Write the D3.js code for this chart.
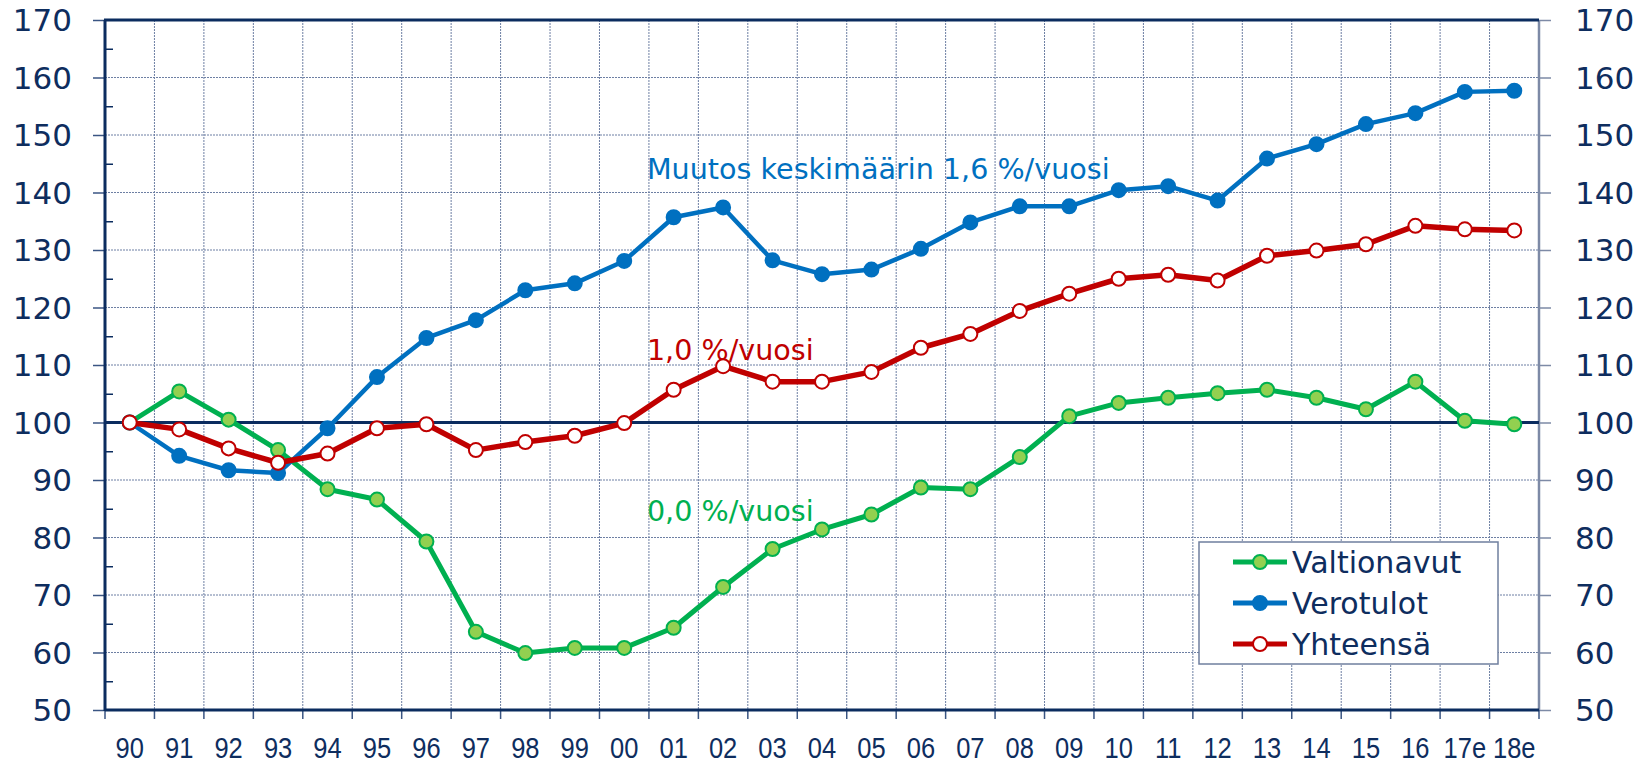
<!DOCTYPE html>
<html lang="fi">
<head>
<meta charset="UTF-8">
<title>Valtionavut, verotulot ja yhteensä</title>
<style>
    body { margin: 0; background: #fff; }
    svg { display: block; }
    .ylab { font-family: "DejaVu Sans", Verdana, sans-serif; font-size: 31px; fill: #0e2d5e; }
    .xlab { font-family: "Liberation Sans", Arial, sans-serif; font-size: 30px; fill: #0e2d5e; }
    .legend text { font-family: "DejaVu Sans", Verdana, sans-serif; font-size: 30px; fill: #0e2d5e; }
    .note { font-family: "DejaVu Sans", Verdana, sans-serif; font-size: 28.6px; }
</style>
</head>
<body>
<div id="chart"></div>
<script src="https://cdnjs.cloudflare.com/ajax/libs/d3/7.8.5/d3.min.js"></script>
<script>
    // years (index 1990 = 100)
    var years = ["90", "91", "92", "93", "94", "95", "96", "97", "98", "99", "00", "01", "02", "03", "04",
                 "05", "06", "07", "08", "09", "10", "11", "12", "13", "14", "15", "16", "17e", "18e"];

    var valtionavut = [100, 105.4, 100.5, 95.2, 88.4, 86.6, 79.3, 63.6, 59.9, 60.8, 60.8, 64.3, 71.4, 78.0, 81.4,
                       84.0, 88.7, 88.4, 94.0, 101.1, 103.4, 104.3, 105.1, 105.7, 104.3, 102.3, 107.1, 100.3, 99.7];
    var verotulot = [100, 94.2, 91.7, 91.2, 99.0, 107.9, 114.7, 117.8, 123.0, 124.2, 128.1, 135.7, 137.4, 128.2, 125.8,
                     126.6, 130.2, 134.8, 137.6, 137.6, 140.4, 141.1, 138.6, 145.9, 148.4, 151.9, 153.8, 157.5, 157.7];
    var yhteensa = [100, 98.8, 95.5, 93.0, 94.6, 99.0, 99.7, 95.2, 96.6, 97.7, 99.9, 105.7, 109.8, 107.1, 107.1,
                    108.8, 113.0, 115.4, 119.4, 122.4, 125.0, 125.7, 124.7, 129.0, 129.9, 131.0, 134.2, 133.6, 133.4];

    var yTicks = [50, 60, 70, 80, 90, 100, 110, 120, 130, 140, 150, 160, 170];

    var navy = "#0b2c5f";
    var gridColor = "#6d7fa3";
    var axisGray = "#7d8aa6";

    var series = [
        { name: "Valtionavut", values: valtionavut, line: "#00b050", fill: "#92d050", stroke: "#00b050", lw: 5 },
        { name: "Verotulot", values: verotulot, line: "#0070c0", fill: "#0070c0", stroke: "#0070c0", lw: 4.5 },
        { name: "Yhteensä", values: yhteensa, line: "#c00000", fill: "#ffffff", stroke: "#c00000", lw: 5.5 }
    ];

    var notes = [
        { text: "Muutos keskimäärin 1,6 %/vuosi", year: "01", value: 142.4, color: "#0070c0" },
        { text: "1,0 %/vuosi", year: "01", value: 110.9, color: "#c00000" },
        { text: "0,0 %/vuosi", year: "01", value: 82.9, color: "#00b050" }
    ];

    var width = 1639, height = 763;
    var plotL = 105, plotR = 1539, plotT = 20, plotB = 710;

    var svg = d3.select("#chart").append("svg")
        .attr("width", width)
        .attr("height", height);

    var x = d3.scaleBand().domain(years).range([plotL, plotR]).paddingInner(0).paddingOuter(0);
    var y = d3.scaleLinear().domain([50, 170]).range([plotB, plotT]);
    var bw = x.bandwidth();

    // grid
    var grid = svg.append("g");
    grid.selectAll(".hg")
        .data(yTicks.filter(d => d > 50 && d < 170 && d !== 100))
        .enter().append("line")
        .attr("x1", plotL).attr("x2", plotR)
        .attr("y1", d => y(d)).attr("y2", d => y(d))
        .attr("stroke", gridColor).attr("stroke-width", 1)
        .attr("stroke-dasharray", "2,1");
    grid.selectAll(".vg")
        .data(years.slice(1))
        .enter().append("line")
        .attr("x1", d => x(d)).attr("x2", d => x(d))
        .attr("y1", plotT).attr("y2", plotB)
        .attr("stroke", gridColor).attr("stroke-width", 1)
        .attr("stroke-dasharray", "2,1");

    // left axis with major ticks outside
    svg.append("g").attr("transform", `translate(${plotL},0)`)
        .call(d3.axisLeft(y).tickValues(yTicks).tickSize(12).tickFormat(""))
        .call(g => g.select(".domain").remove())
        .call(g => g.selectAll("line").attr("stroke", "#3a5583").attr("stroke-width", 1.5));

    // minor ticks inside
    svg.append("g").attr("transform", `translate(${plotL},0)`)
        .call(d3.axisRight(y).tickValues(d3.range(55, 170, 10)).tickSize(8).tickFormat(""))
        .call(g => g.select(".domain").remove())
        .call(g => g.selectAll("line").attr("stroke", navy).attr("stroke-width", 1.5));

    // right axis ticks
    svg.append("g").attr("transform", `translate(${plotR},0)`)
        .call(d3.axisRight(y).tickValues(yTicks).tickSize(12).tickFormat(""))
        .call(g => g.select(".domain").remove())
        .call(g => g.selectAll("line").attr("stroke", axisGray).attr("stroke-width", 1.5));

    // bottom ticks at band boundaries
    svg.append("g").selectAll("line")
        .data(years.map(d => x(d)).concat([plotR]))
        .enter().append("line")
        .attr("x1", d => d).attr("x2", d => d)
        .attr("y1", plotB).attr("y2", plotB + 9)
        .attr("stroke", "#3a5583").attr("stroke-width", 1.5);

    // tick labels
    svg.append("g").selectAll("text")
        .data(yTicks).enter().append("text")
        .attr("class", "ylab")
        .attr("x", 72).attr("y", d => y(d)).attr("dy", "0.36em")
        .attr("text-anchor", "end")
        .text(d => d);
    svg.append("g").selectAll("text")
        .data(yTicks).enter().append("text")
        .attr("class", "ylab")
        .attr("x", 1575).attr("y", d => y(d)).attr("dy", "0.36em")
        .text(d => d);
    svg.append("g").selectAll("text")
        .data(years).enter().append("text")
        .attr("class", "xlab")
        .attr("text-anchor", "middle")
        .attr("transform", d => `translate(${x(d) + bw / 2},${758}) scale(0.85,1)`)
        .text(d => d);

    // frame lines
    svg.append("line").attr("x1", plotR).attr("x2", plotR).attr("y1", plotT).attr("y2", plotB)
        .attr("stroke", axisGray).attr("stroke-width", 2.5);
    svg.append("line").attr("x1", plotL - 1).attr("x2", plotR).attr("y1", plotT).attr("y2", plotT)
        .attr("stroke", navy).attr("stroke-width", 3);
    svg.append("line").attr("x1", plotL).attr("x2", plotR).attr("y1", plotB).attr("y2", plotB)
        .attr("stroke", navy).attr("stroke-width", 3);
    svg.append("line").attr("x1", plotL).attr("x2", plotL).attr("y1", plotT).attr("y2", plotB + 1)
        .attr("stroke", navy).attr("stroke-width", 3);
    svg.append("line").attr("x1", plotL).attr("x2", plotR).attr("y1", y(100)).attr("y2", y(100))
        .attr("stroke", navy).attr("stroke-width", 3);

    // series
    var line = d3.line().x((d, i) => x(years[i]) + bw / 2).y(d => y(d));
    series.forEach(s => {
        var g = svg.append("g");
        g.append("path")
            .attr("d", line(s.values))
            .attr("fill", "none")
            .attr("stroke", s.line)
            .attr("stroke-width", s.lw)
            .attr("stroke-linejoin", "round");
        g.selectAll("circle")
            .data(s.values).enter().append("circle")
            .attr("cx", (d, i) => x(years[i]) + bw / 2)
            .attr("cy", d => y(d))
            .attr("r", 7)
            .attr("fill", s.fill)
            .attr("stroke", s.stroke)
            .attr("stroke-width", 2);
    });

    // annotations
    svg.append("g").selectAll("text")
        .data(notes).enter().append("text")
        .attr("class", "note")
        .attr("x", d => x(d.year) - 2)
        .attr("y", d => y(d.value))
        .attr("fill", d => d.color)
        .text(d => d.text);

    // legend
    var legend = svg.append("g").attr("class", "legend");
    legend.append("rect")
        .attr("x", 1199).attr("y", 542).attr("width", 299).attr("height", 122)
        .attr("fill", "#fff").attr("stroke", "#6f7f9e").attr("stroke-width", 1.5);
    var item = legend.selectAll(".item")
        .data(series).enter().append("g")
        .attr("transform", (d, i) => `translate(1233,${562 + i * 41})`);
    item.append("line")
        .attr("x1", 0).attr("x2", 54)
        .attr("stroke", d => d.line).attr("stroke-width", 5);
    item.append("circle")
        .attr("cx", 27).attr("r", 7)
        .attr("fill", d => d.fill).attr("stroke", d => d.stroke).attr("stroke-width", 2);
    item.append("text")
        .attr("x", 59).attr("dy", "0.36em")
        .text(d => d.name);
</script>
</body>
</html>
